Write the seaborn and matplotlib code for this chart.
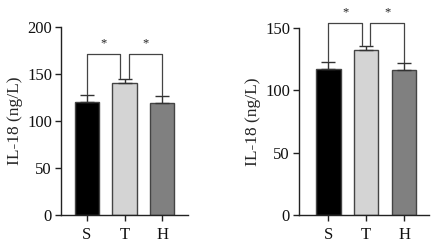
import numpy as np
import pandas as pd
import matplotlib
matplotlib.use("Agg")
import matplotlib.pyplot as plt
import seaborn as sns

sns.set_theme(style="ticks")
plt.rcParams['font.family'] = ['Liberation Serif', 'DejaVu Serif']

groups = ["S", "T", "H"]
left_means = [120, 140, 119]
left_err = [8, 5, 8]
right_means = [117, 132, 116]
right_err = [5.5, 3.5, 5.5]
colors = ["#000000", "#d4d4d4", "#808080"]
edge = "#444444"

fig = plt.figure(figsize=(4.34, 2.44), dpi=100)
ax1 = fig.add_axes([0.1406, 0.1189, 0.2926, 0.7705])
ax2 = fig.add_axes([0.689, 0.1189, 0.2995, 0.7676])


def draw(ax, means, errs, ymax, yticks, xlim, br_y, leg_pad, star_y):
    df = pd.DataFrame({"group": groups, "value": means})
    sns.barplot(data=df, x="group", y="value", hue="group", palette=colors,
                order=groups, hue_order=groups, width=0.64, errorbar=None,
                edgecolor=edge, linewidth=1.0, legend=False, ax=ax)
    xs = np.arange(len(groups))
    ax.errorbar(xs, means, yerr=[np.zeros(len(errs)), errs], fmt="none",
                ecolor="#333333", elinewidth=1.0, capsize=5, capthick=1.0,
                zorder=3)
    ax.set_ylim(0, ymax)
    ax.set_yticks(yticks)
    ax.set_xlim(*xlim)
    ax.set_xlabel("")
    ax.set_ylabel("IL-18 (ng/L)", fontsize=12.5, labelpad=3)
    ax.tick_params(axis="both", labelsize=12, length=4, width=1.0,
                   color="#222222", labelcolor="#111111", pad=2.5)
    ax.tick_params(axis="x", pad=5)
    for s in ["top", "right"]:
        ax.spines[s].set_visible(False)
    for s in ["left", "bottom"]:
        ax.spines[s].set_linewidth(1.0)
        ax.spines[s].set_color("#222222")
    tops = [m + e for m, e in zip(means, errs)]
    pairs = [(0, 1, 0.0, -0.11), (1, 2, 0.11, 0.0)]
    for a, b, da, db in pairs:
        xa = xs[a] + da
        xb = xs[b] + db
        ax.plot([xa, xa, xb, xb], [tops[a] + leg_pad, br_y, br_y, tops[b] + leg_pad],
                color="#444444", lw=0.9, clip_on=False)
        ax.text((xa + xb) / 2, star_y, "*", ha="center", va="center",
                fontsize=9, color="#222222", clip_on=False)


draw(ax1, left_means, left_err, 200, [0, 50, 100, 150, 200], (-0.69, 2.69),
     171, 0.5, 183)
draw(ax2, right_means, right_err, 150, [0, 50, 100, 150], (-0.78, 2.66),
     154, 0.5, 162)

fig.savefig("out.png", dpi=100)
